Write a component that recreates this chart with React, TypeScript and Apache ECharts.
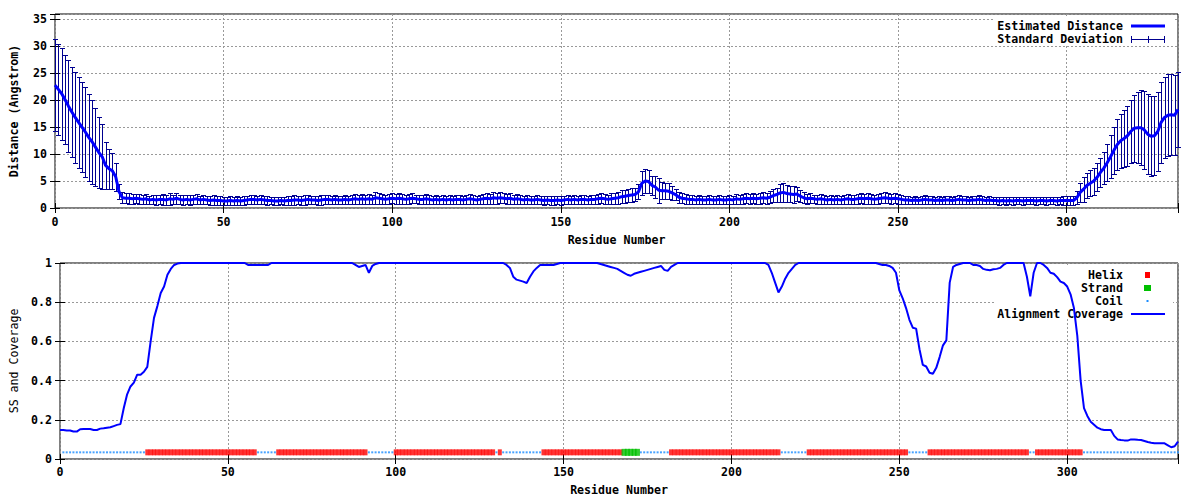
import React, { useEffect, useRef } from 'react';
import * as echarts from 'echarts';

// ---------------- DATA ----------------
const X_TICKS = [0, 50, 100, 150, 200, 250, 300];
const DIST_TICKS = [0, 5, 10, 15, 20, 25, 30, 35];

// Estimated distance per residue (0..333)
const distance: number[] = [
  22.8, 22.0, 21.2, 20.1, 18.9, 17.8, 16.8, 15.9, 15.0, 14.1,
  13.1, 12.3, 11.3, 10.3, 9.5, 7.9, 7.3, 6.9, 5.8, 3.0,
  1.9, 1.8, 1.8, 1.7, 1.8, 1.7, 1.6, 1.7, 1.5, 1.6,
  1.5, 1.6, 1.6, 1.5, 1.7, 1.6, 1.8, 1.6, 1.5, 1.6,
  1.5, 1.6, 1.7, 1.5, 1.6, 1.5, 1.4, 1.5, 1.4, 1.4,
  1.3, 1.3, 1.4, 1.3, 1.4, 1.3, 1.4, 1.5, 1.6, 1.6,
  1.5, 1.6, 1.5, 1.4, 1.4, 1.3, 1.3, 1.4, 1.3, 1.4,
  1.4, 1.5, 1.5, 1.4, 1.5, 1.6, 1.5, 1.5, 1.4, 1.5,
  1.6, 1.6, 1.5, 1.6, 1.5, 1.5, 1.6, 1.5, 1.6, 1.7,
  1.6, 1.7, 1.6, 1.7, 1.6, 1.9, 1.8, 1.7, 1.6, 1.7,
  1.8, 1.7, 1.8, 1.7, 1.6, 1.7, 1.8, 1.7, 1.6, 1.6,
  1.7, 1.6, 1.5, 1.6, 1.5, 1.6, 1.5, 1.6, 1.5, 1.6,
  1.6, 1.5, 1.6, 1.7, 1.6, 1.5, 1.6, 1.7, 1.8, 1.7,
  1.9, 1.8, 1.9, 1.8, 1.7, 1.8, 1.6, 1.7, 1.6, 1.5,
  1.6, 1.5, 1.5, 1.6, 1.5, 1.4, 1.5, 1.4, 1.4, 1.5,
  1.4, 1.5, 1.6, 1.5, 1.6, 1.5, 1.6, 1.6, 1.5, 1.6,
  1.6, 1.7, 1.8, 1.7, 1.6, 1.7, 1.8, 1.9, 2.1, 2.2,
  2.3, 2.4, 2.5, 3.0, 4.6, 5.0, 4.9, 4.2, 3.9, 3.3,
  3.2, 3.2, 3.1, 2.8, 2.5, 2.0, 1.8, 1.7, 1.6, 1.6,
  1.5, 1.6, 1.5, 1.5, 1.6, 1.5, 1.5, 1.6, 1.5, 1.5,
  1.6, 1.5, 1.7, 1.6, 1.7, 1.8, 1.7, 1.8, 1.7, 1.8,
  1.9, 1.8, 2.0, 2.3, 2.5, 2.8, 2.9, 2.7, 2.6, 2.5,
  2.6, 2.2, 1.9, 1.7, 1.8, 1.7, 1.6, 1.7, 1.6, 1.5,
  1.6, 1.5, 1.6, 1.5, 1.6, 1.7, 1.6, 1.6, 1.7, 1.8,
  1.7, 1.8, 1.7, 1.6, 1.7, 1.8, 1.9, 1.8, 1.7, 1.8,
  1.7, 1.6, 1.5, 1.5, 1.4, 1.5, 1.4, 1.5, 1.6, 1.5,
  1.5, 1.4, 1.5, 1.4, 1.5, 1.5, 1.4, 1.5, 1.6, 1.5,
  1.5, 1.4, 1.5, 1.5, 1.6, 1.5, 1.4, 1.5, 1.4, 1.4,
  1.3, 1.4, 1.3, 1.4, 1.3, 1.4, 1.4, 1.3, 1.4, 1.4,
  1.4, 1.3, 1.4, 1.4, 1.3, 1.4, 1.4, 1.3, 1.4, 1.4,
  1.4, 1.4, 1.4, 1.9, 2.9, 3.5, 4.2, 4.6, 5.0, 5.7,
  6.6, 7.4, 8.4, 9.5, 10.7, 11.8, 12.5, 12.9, 13.4, 14.2,
  14.8, 14.9, 14.9, 14.5, 13.7, 13.3, 13.4, 14.2, 15.9, 16.8,
  17.2, 17.3, 17.2, 18.3,
];

// Standard deviation per residue (0..333)
const stdDev: number[] = [
  8.5, 8.5, 8.5, 8.3, 8.5, 8.4, 8.4, 8.4, 8.4, 8.3,
  8.1, 7.8, 7.2, 6.6, 6.0, 4.4, 3.7, 3.3, 2.6, 1.4,
  1.0, 0.9, 1.0, 0.9, 0.8, 0.9, 0.8, 0.9, 0.8, 0.9,
  0.9, 0.8, 1.0, 0.9, 1.1, 0.9, 1.0, 0.8, 0.9, 0.8,
  0.9, 0.8, 0.9, 0.8, 0.9, 0.8, 0.8, 0.9, 0.8, 0.8,
  0.7, 0.8, 0.8, 0.7, 0.8, 0.8, 0.9, 0.8, 0.9, 0.8,
  0.8, 0.9, 0.8, 0.8, 0.7, 0.8, 0.8, 0.7, 0.8, 0.8,
  0.8, 0.9, 0.8, 0.8, 0.9, 0.9, 0.8, 0.8, 0.8, 0.9,
  0.9, 0.8, 0.8, 0.9, 0.8, 0.8, 0.9, 0.8, 0.9, 0.9,
  0.8, 0.9, 0.8, 0.9, 0.9, 1.1, 1.0, 0.9, 0.8, 0.9,
  0.9, 0.9, 1.0, 0.9, 0.8, 0.9, 0.9, 0.8, 0.8, 0.9,
  0.9, 0.8, 0.8, 0.9, 0.8, 0.8, 0.8, 0.9, 0.8, 0.8,
  0.8, 0.8, 0.9, 0.9, 0.8, 0.8, 0.9, 0.9, 1.0, 0.9,
  1.1, 1.0, 1.0, 0.9, 0.9, 1.0, 0.8, 0.9, 0.8, 0.8,
  0.8, 0.8, 0.8, 0.9, 0.8, 0.8, 0.8, 0.8, 0.8, 0.8,
  0.8, 0.8, 0.9, 0.8, 0.9, 0.8, 0.9, 0.8, 0.8, 0.9,
  0.9, 0.9, 0.9, 0.9, 0.9, 1.0, 1.0, 1.1, 1.2, 1.2,
  1.2, 1.3, 1.2, 1.4, 2.2, 2.2, 2.2, 1.8, 2.0, 2.3,
  1.6, 1.5, 1.5, 1.3, 1.1, 1.0, 0.9, 0.9, 0.8, 0.8,
  0.8, 0.9, 0.8, 0.8, 0.9, 0.8, 0.8, 0.8, 0.8, 0.8,
  0.8, 0.8, 0.9, 0.8, 0.9, 0.9, 0.9, 0.9, 0.9, 1.0,
  1.0, 1.0, 1.1, 1.2, 1.3, 1.6, 1.7, 1.6, 1.4, 1.5,
  1.3, 1.1, 1.0, 0.9, 0.9, 0.8, 0.8, 0.9, 0.8, 0.8,
  0.8, 0.8, 0.8, 0.8, 0.8, 0.9, 0.8, 0.8, 0.9, 0.9,
  0.9, 1.0, 0.9, 0.8, 0.9, 0.9, 1.0, 0.9, 0.9, 0.9,
  0.9, 0.8, 0.8, 0.8, 0.7, 0.8, 0.7, 0.8, 0.9, 0.8,
  0.8, 0.7, 0.8, 0.7, 0.8, 0.8, 0.7, 0.8, 0.9, 0.8,
  0.8, 0.7, 0.8, 0.8, 0.9, 0.8, 0.7, 0.8, 0.7, 0.7,
  0.7, 0.7, 0.7, 0.7, 0.7, 0.7, 0.7, 0.7, 0.7, 0.7,
  0.7, 0.7, 0.7, 0.7, 0.7, 0.7, 0.7, 0.7, 0.7, 0.8,
  0.8, 0.8, 0.8, 1.2, 1.8, 2.3, 2.3, 2.4, 2.5, 2.6,
  2.7, 2.9, 3.4, 4.0, 4.4, 4.8, 5.0, 5.3, 5.6, 5.9,
  6.2, 6.6, 7.0, 7.2, 7.4, 7.4, 7.3, 7.3, 7.5, 7.6,
  7.6, 7.5, 7.4, 7.0,
];

// Alignment coverage per residue (0..333)
const coverage: number[] = [
  0.148, 0.148, 0.145, 0.145, 0.140, 0.140, 0.152, 0.153, 0.153, 0.153,
  0.148, 0.148, 0.155, 0.157, 0.160, 0.162, 0.168, 0.174, 0.178, 0.26,
  0.33, 0.37, 0.39, 0.43, 0.43, 0.445, 0.47, 0.60, 0.72, 0.78,
  0.847, 0.88, 0.94, 0.97, 0.99, 0.997, 1, 1, 1, 1,
  1, 1, 1, 1, 1, 1, 1, 1, 1, 1,
  1, 1, 1, 1, 1, 1, 0.99, 0.99, 0.99, 0.99,
  0.99, 0.99, 0.99, 1, 1, 1, 1, 1, 1, 1,
  1, 1, 1, 1, 1, 1, 1, 1, 1, 1,
  1, 1, 1, 1, 1, 1, 1, 1, 0.99, 0.98,
  0.985, 0.99, 0.95, 0.985, 0.995, 1, 1, 1, 1, 1,
  1, 1, 1, 1, 1, 1, 1, 1, 1, 1,
  1, 1, 1, 1, 1, 1, 1, 1, 1, 1,
  1, 1, 1, 1, 1, 1, 1, 1, 1, 1,
  1, 1, 1, 0.99, 0.975, 0.93, 0.915, 0.91, 0.905, 0.898,
  0.93, 0.957, 0.975, 0.99, 0.99, 0.99, 0.99, 0.99, 0.995, 1,
  1, 1, 1, 1, 1, 1, 1, 1, 1, 1,
  1, 0.995, 0.99, 0.985, 0.98, 0.975, 0.97, 0.96, 0.95, 0.94,
  0.935, 0.945, 0.95, 0.955, 0.96, 0.965, 0.97, 0.975, 0.98, 0.985,
  0.965, 0.96, 0.98, 0.99, 1, 1, 1, 1, 1, 1,
  1, 1, 1, 1, 1, 1, 1, 1, 1, 1,
  1, 1, 1, 1, 1, 1, 1, 1, 1, 1,
  1, 0.99, 0.95, 0.9, 0.85, 0.88, 0.92, 0.95, 0.97, 0.99,
  1, 1, 1, 1, 1, 1, 1, 1, 1, 1,
  1, 1, 1, 1, 1, 1, 1, 1, 1, 1,
  1, 1, 1, 1, 0.995, 0.99, 0.99, 0.985, 0.975, 0.95,
  0.86, 0.82, 0.77, 0.71, 0.67, 0.665, 0.56, 0.48, 0.472, 0.44,
  0.435, 0.465, 0.52, 0.58, 0.605, 0.9, 0.98, 0.99, 0.995, 1,
  1, 1, 0.99, 0.99, 0.985, 0.97, 0.965, 0.963, 0.968, 0.97,
  0.975, 0.99, 1, 1, 1, 1, 1, 1, 0.93, 0.83,
  0.95, 1, 1, 0.99, 0.975, 0.95, 0.945, 0.928, 0.905, 0.898,
  0.88, 0.84, 0.77, 0.63, 0.40, 0.26, 0.22, 0.19, 0.175, 0.16,
  0.152, 0.148, 0.148, 0.148, 0.118, 0.10, 0.097, 0.095, 0.094, 0.10,
  0.10, 0.098, 0.097, 0.092, 0.087, 0.083, 0.08, 0.08, 0.08, 0.08,
  0.07, 0.06, 0.065, 0.089,
];

// Secondary structure segments: [type, firstResidue, lastResidue]
const ssSegments: [string, number, number][] = [
  ['C', 1, 25], ['H', 26, 58], ['C', 59, 64], ['H', 65, 91], ['C', 92, 99],
  ['H', 100, 129], ['C', 130, 130], ['H', 131, 131], ['C', 132, 143],
  ['H', 144, 167], ['E', 168, 172], ['C', 173, 181], ['H', 182, 214],
  ['C', 215, 222], ['H', 223, 252], ['C', 253, 258], ['H', 259, 288],
  ['C', 289, 290], ['H', 291, 304], ['C', 305, 333],
];
const SS_LEVEL = 0.034;

// ---------------- STYLE ----------------
const FONT = 'DejaVu Sans Mono';
const FS = 11.6;
const GRID_LINE = { color: '#999999', type: [2, 2] as any, width: 1 };
const ERR_COLOR = '#000090';

function ssPoints(kind: string): number[][] {
  const pts: number[][] = [];
  ssSegments.forEach(([t, a, b]) => {
    if (t !== kind) return;
    for (let r = a; r <= b; r++) pts.push([r, SS_LEVEL]);
  });
  return pts;
}

function xAxisPair(gridIndex: number, main: boolean) {
  return {
    type: 'value', gridIndex, min: 0, max: 333, interval: 50,
    position: main ? 'bottom' : 'top',
    axisLine: { show: false },
    axisTick: { show: true, inside: true, length: 5, lineStyle: { color: '#000' } },
    axisLabel: main ? {
      show: true, margin: 8, color: '#000', fontFamily: FONT, fontWeight: 'bold', fontSize: FS,
      formatter: (v: number) => (X_TICKS.includes(v) ? String(v) : ''),
    } : { show: false },
    splitLine: main ? { show: true, lineStyle: GRID_LINE } : { show: false },
    name: main ? 'Residue Number' : '',
    nameLocation: 'middle', nameGap: 26,
    nameTextStyle: { color: '#000', fontFamily: FONT, fontWeight: 'bold', fontSize: FS },
  };
}

const snap = (v: number) => Math.round(v) + 0.5;

export default function App() {
  const ref = useRef<HTMLDivElement>(null);
  useEffect(() => {
    const chart = echarts.init(ref.current!, null, { renderer: 'svg' });

    const errData = distance.map((d, i) => [i, d - stdDev[i], d + stdDev[i]]);
    const distData = distance.map((d, i) => [i, d]);
    const covData = coverage.map((c, i) => [i, c]);

    const yTop = (main: boolean) => ({
      type: 'value', gridIndex: 0, min: 0, max: 36, interval: 5,
      position: main ? 'left' : 'right',
      axisLine: { show: false },
      axisTick: { show: true, inside: true, length: 5, lineStyle: { color: '#000' } },
      axisLabel: main ? {
        show: true, margin: 8, color: '#000', fontFamily: FONT, fontWeight: 'bold', fontSize: FS,
        formatter: (v: number) => (DIST_TICKS.includes(v) ? String(v) : ''),
      } : { show: false },
      splitLine: main ? { show: true, lineStyle: GRID_LINE } : { show: false },
      name: main ? 'Distance (Angstrom)' : '',
      nameLocation: 'middle', nameGap: 35, nameRotate: 90,
      nameTextStyle: { color: '#000', fontFamily: FONT, fontWeight: 'bold', fontSize: FS },
    });
    const yBot = (main: boolean) => ({
      type: 'value', gridIndex: 1, min: 0, max: 1, interval: 0.2,
      position: main ? 'left' : 'right',
      axisLine: { show: false },
      axisTick: { show: true, inside: true, length: 5, lineStyle: { color: '#000' } },
      axisLabel: main ? {
        show: true, margin: 8, color: '#000', fontFamily: FONT, fontWeight: 'bold', fontSize: FS,
      } : { show: false },
      splitLine: main ? { show: true, lineStyle: GRID_LINE } : { show: false },
      name: main ? 'SS and Coverage' : '',
      nameLocation: 'middle', nameGap: 40, nameRotate: 90,
      nameTextStyle: { color: '#000', fontFamily: FONT, fontWeight: 'normal', fontSize: FS },
    });

    const xb = xAxisPair(1, true);
    (xb as any).nameGap = 25;
    (xb as any).axisLabel.margin = 7;

    const txt = (s: string, y: number) => ({
      type: 'text', z: 1, x: 1123, y,
      style: { text: s, fill: '#000', font: `bold ${FS}px "${FONT}"`, textAlign: 'right', textVerticalAlign: 'middle' },
    });
    const ln = (x1: number, y1: number, x2: number, y2: number, stroke: string, w: number) => ({
      type: 'line', z: 1, shape: { x1, y1, x2, y2 }, style: { stroke, lineWidth: w },
    });

    chart.setOption({
      animation: false,
      backgroundColor: '#fff',
      grid: [
        { left: 52, top: 14, width: 1126, height: 194, show: true, borderColor: '#000', borderWidth: 1, backgroundColor: 'transparent' },
        { left: 58, top: 263, width: 1120, height: 196, show: true, borderColor: '#000', borderWidth: 1, backgroundColor: 'transparent' },
      ],
      xAxis: [xAxisPair(0, true), xAxisPair(0, false), xb, xAxisPair(1, false)],
      yAxis: [yTop(true), yTop(false), yBot(true), yBot(false)],
      series: [
        {
          name: 'Standard Deviation', type: 'custom', xAxisIndex: 0, yAxisIndex: 0,
          encode: { x: 0, y: [1, 2] }, data: errData, z: 2,
          renderItem: (params: any, api: any) => {
            const x = api.value(0);
            const lo = api.coord([x, api.value(1)]);
            const hi = api.coord([x, api.value(2)]);
            const cx = snap(lo[0]);
            const yl = snap(lo[1]);
            const yh = snap(hi[1]);
            const hw = 2.5;
            const st = { stroke: ERR_COLOR, lineWidth: 1 };
            return {
              type: 'group', children: [
                { type: 'line', shape: { x1: cx, y1: yl, x2: cx, y2: yh }, style: st },
                { type: 'line', shape: { x1: cx - hw, y1: yh, x2: cx + hw, y2: yh }, style: st },
                { type: 'line', shape: { x1: cx - hw, y1: yl, x2: cx + hw, y2: yl }, style: st },
              ],
            };
          },
        },
        {
          name: 'Estimated Distance', type: 'line', xAxisIndex: 0, yAxisIndex: 0,
          data: distData, showSymbol: false, symbol: 'none', clip: false, z: 3,
          lineStyle: { color: '#0000ff', width: 3 },
        },
        {
          name: 'Coil', type: 'scatter', xAxisIndex: 2, yAxisIndex: 2,
          data: ssPoints('C'), symbol: 'rect', symbolSize: 2, itemStyle: { color: '#1a8cff' }, z: 2,
        },
        {
          name: 'Helix', type: 'scatter', xAxisIndex: 2, yAxisIndex: 2,
          data: ssPoints('H'), symbol: 'rect', symbolSize: [4, 6], itemStyle: { color: '#ff0000' }, z: 2,
        },
        {
          name: 'Strand', type: 'scatter', xAxisIndex: 2, yAxisIndex: 2,
          data: ssPoints('E'), symbol: 'rect', symbolSize: [5, 7], itemStyle: { color: '#00c000' }, z: 2,
        },
        {
          name: 'Alignment Coverage', type: 'line', xAxisIndex: 2, yAxisIndex: 2,
          data: covData, showSymbol: false, symbol: 'none', clip: false, z: 3,
          lineStyle: { color: '#0000ff', width: 2 },
        },
      ],
      graphic: {
        elements: [
          { type: 'rect', z: 1, shape: { x: 993, y: 17, width: 180, height: 29 }, style: { fill: '#fff' } },
          txt('Estimated Distance', 26),
          ln(1131, 26, 1165, 26, '#0000ff', 3),
          txt('Standard Deviation', 39),
          ln(1131, 39.5, 1165, 39.5, ERR_COLOR, 1),
          ln(1131.5, 36, 1131.5, 43, ERR_COLOR, 1),
          ln(1164.5, 36, 1164.5, 43, ERR_COLOR, 1),
          ln(1148.5, 36, 1148.5, 43, ERR_COLOR, 1),

          { type: 'rect', z: 1, shape: { x: 996, y: 266, width: 177, height: 51 }, style: { fill: '#fff' } },
          txt('Helix', 275),
          { type: 'rect', z: 1, shape: { x: 1145, y: 272, width: 5, height: 6 }, style: { fill: '#ff0000' } },
          txt('Strand', 288),
          { type: 'rect', z: 1, shape: { x: 1144, y: 285, width: 7, height: 6 }, style: { fill: '#00c000' } },
          txt('Coil', 301),
          { type: 'rect', z: 1, shape: { x: 1146.5, y: 300, width: 2, height: 2 }, style: { fill: '#1a8cff' } },
          txt('Alignment Coverage', 314),
          ln(1131, 314, 1165, 314, '#0000ff', 2),
        ],
      },
    } as any);
    return () => chart.dispose();
  }, []);
  return <div ref={ref} style={{ position: 'fixed', left: 0, top: 0, width: 1200, height: 500, background: '#fff' }} />;
}
